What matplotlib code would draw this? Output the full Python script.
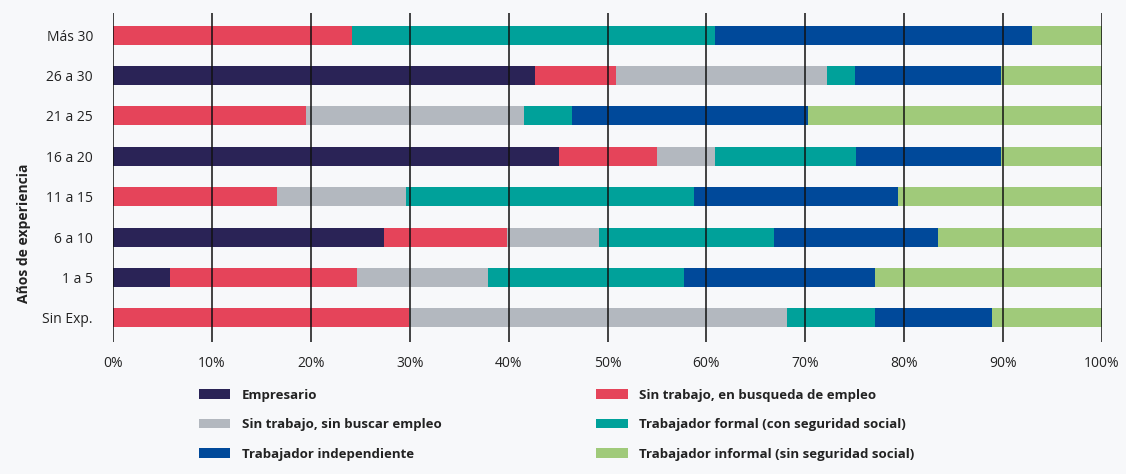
import matplotlib.pyplot as plt
import numpy as np

plt.rcParams['font.family'] = ['Open Sans', 'DejaVu Sans']

categorias = ['Más 30', '26 a 30', '21 a 25', '16 a 20', '11 a 15', '6 a 10', '1 a 5', 'Sin Exp.']

# porcentajes por categoria (de arriba hacia abajo)
empresario   = [0.0, 42.7, 0.0, 45.1, 0.0, 27.4, 5.8, 0.0]
sin_busqueda = [24.2, 8.2, 19.5, 9.9, 16.6, 12.4, 18.9, 29.9]
sin_buscar   = [0.0, 21.3, 22.1, 5.9, 13.0, 9.3, 13.2, 38.2]
formal       = [36.7, 2.8, 4.8, 14.2, 29.1, 17.7, 19.8, 8.9]
independ     = [32.0, 14.8, 23.9, 14.7, 20.7, 16.6, 19.3, 11.9]
informal     = [7.1, 10.2, 29.7, 10.2, 20.6, 16.6, 23.0, 11.1]

series = [
    ('Empresario', empresario, '#2a2356'),
    ('Sin trabajo, en busqueda de empleo', sin_busqueda, '#e5445a'),
    ('Sin trabajo, sin buscar empleo', sin_buscar, '#b3b8bf'),
    ('Trabajador formal (con seguridad social)', formal, '#00a19a'),
    ('Trabajador independiente', independ, '#00499a'),
    ('Trabajador informal (sin seguridad social)', informal, '#a0ca7a'),
]

bg = '#f7f8fa'
fig = plt.figure(figsize=(11.26, 4.74), dpi=100, facecolor=bg)
ax = fig.add_axes([0.1004, 0.2785, 0.8783, 0.6941], facecolor=bg)

y = np.arange(len(categorias))
left = np.zeros(len(categorias))
handles = {}
for nombre, vals, col in series:
    vals = np.array(vals)
    b = ax.barh(y, vals, left=left, height=0.47, color=col, label=nombre, zorder=2)
    handles[nombre] = b
    left += vals

ax.set_xlim(0, 100)
ax.set_ylim(len(categorias) - 1 + 0.6, -0.55)
ax.set_xticks(np.arange(0, 101, 10))
ax.set_xticklabels([f'{v}%' for v in range(0, 101, 10)])
ax.set_yticks(y)
ax.set_yticklabels(categorias)
ax.tick_params(axis='both', length=0, labelsize=10, colors='#222222')
ax.tick_params(axis='x', pad=10)
ax.tick_params(axis='y', pad=14.5)
for s in ax.spines.values():
    s.set_visible(False)
for v in range(0, 101, 10):
    ax.axvline(v, color='#111111', lw=1.1, zorder=3)

ax.set_ylabel('Años de experiencia', fontsize=10, fontweight='bold', color='#222222')
ax.yaxis.set_label_coords(-0.083, 0.33)

orden = ['Empresario', 'Sin trabajo, sin buscar empleo', 'Trabajador independiente',
         'Sin trabajo, en busqueda de empleo', 'Trabajador formal (con seguridad social)',
         'Trabajador informal (sin seguridad social)']
leg = fig.legend([handles[n] for n in orden], orden, ncol=2, loc='upper left',
                 bbox_to_anchor=(0.166, 0.205), frameon=False,
                 prop={'size': 9.5, 'weight': 'bold'},
                 handlelength=2.4, handleheight=0.75, handletextpad=0.85,
                 columnspacing=11.75, labelspacing=1.25)
for t in leg.get_texts():
    t.set_color('#222222')

fig.savefig('out.png', dpi=100, facecolor=bg)
